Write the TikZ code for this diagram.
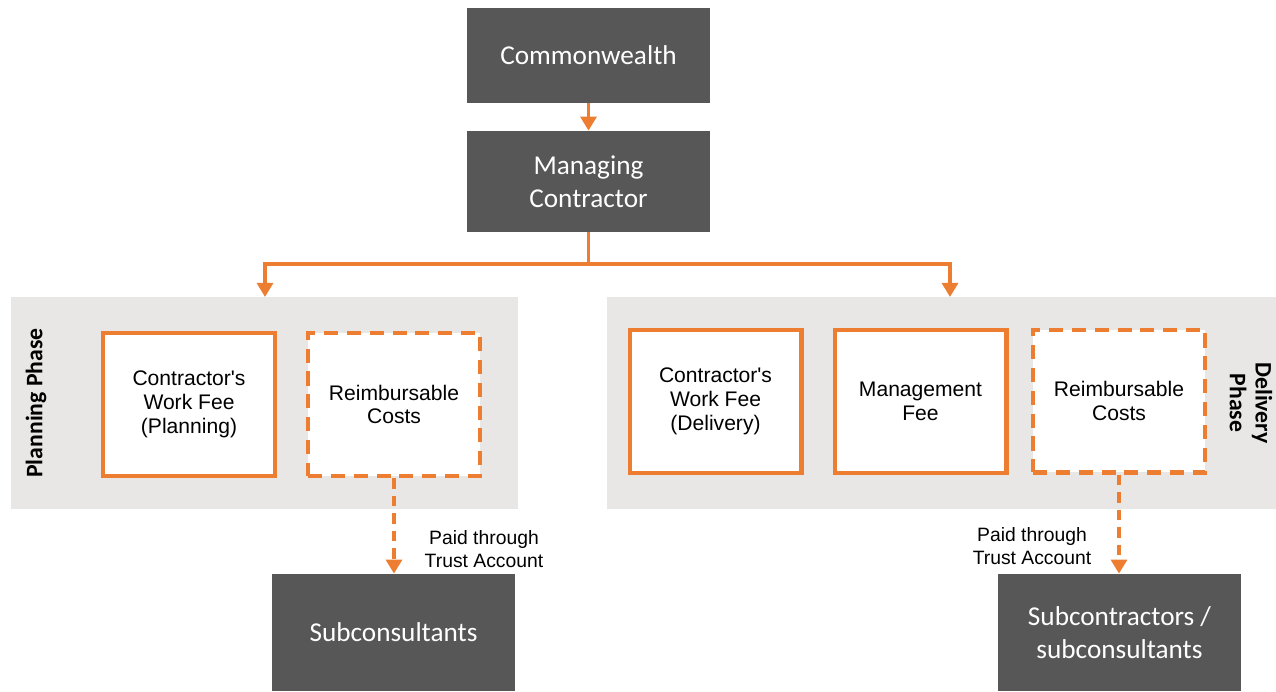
\documentclass[tikz,border=0pt]{standalone}
\usepackage{fontspec}
\setmainfont{Liberation Sans}
\newfontfamily\calibri{Carlito}
\usetikzlibrary{arrows.meta}
\definecolor{mcorange}{HTML}{ED7D31}
\definecolor{mcdark}{HTML}{575757}
\definecolor{mcpanel}{HTML}{E8E7E6}

\begin{document}
\begin{tikzpicture}[x=0.02cm,y=-0.02cm,
   party/.style={fill=mcdark,text=white,minimum width=4.86cm,align=center,
      font=\calibri\fontsize{15.5}{19}\selectfont},
   phase/.style={fill=mcpanel,minimum height=4.24cm},
   phaselabel/.style={align=center,font=\calibri\bfseries\fontsize{13.5}{14.7}\selectfont},
   fee/.style={draw=mcorange,line width=2.3pt,fill=white,minimum width=3.44cm,
      minimum height=2.86cm,align=center,font=\fontsize{12}{13.6}\selectfont},
   reimb/.style={fee,dash pattern=on 8pt off 5pt},
   flow/.style={draw=mcorange,line width=2.1pt,-{Triangle[width=9pt,length=8pt]}},
   trust/.style={flow,dash pattern=on 6pt off 4pt},
   note/.style={align=center,font=\fontsize{11}{13.4}\selectfont}]
\useasboundingbox (0,0) rectangle (1276,691);

\node[party,minimum height=1.90cm] (cw) at (588.5,55.5) {Commonwealth};
\node[party,minimum height=2.02cm] (mc) at (588.5,181.5) {Managing\\Contractor};

\node[phase,minimum width=10.14cm] (plan) at (264.5,403) {};
\node[phase,minimum width=13.38cm] (deliv) at (941.5,403) {};
\node[phaselabel,rotate=90] (planlbl) at (36,403) {Planning Phase};
\node[phaselabel,rotate=-90] (delivlbl) at (1251,403) {Delivery\\Phase};

\node[fee] (pfee) at (189,404.5) {Contractor\textquotesingle s\\Work Fee\\(Planning)};
\node[reimb] (preim) at (394,404.5) {Reimbursable\\Costs};
\node[fee] (dfee) at (715.5,401.5) {Contractor\textquotesingle s\\Work Fee\\(Delivery)};
\node[fee] (mfee) at (920.5,401.5) {Management\\Fee};
\node[reimb] (dreim) at (1119,401) {Reimbursable\\Costs};

\node[party,minimum height=2.34cm] (subc) at (393.5,632.5) {Subconsultants};
\node[party,minimum height=2.34cm] (subd) at (1119.5,632.5) {Subcontractors /\\subconsultants};

\coordinate (split) at (588.5,264);
\coordinate (pin) at (265,297);
\coordinate (din) at (950,297);

\draw[flow] (cw.south) -- (mc.north);
\draw[flow] (mc.south) -- (split) -| (pin);
\draw[flow] (mc.south) -- (split) -| (din);
\draw[trust] (preim.south) -- (preim.south |- subc.north);
\draw[trust] (dreim.south) -- (dreim.south |- subd.north);

\node[note] (pnote) at (484,549) {Paid through\\Trust Account};
\node[note] (dnote) at (1032,546) {Paid through\\Trust Account};
\end{tikzpicture}
\end{document}
